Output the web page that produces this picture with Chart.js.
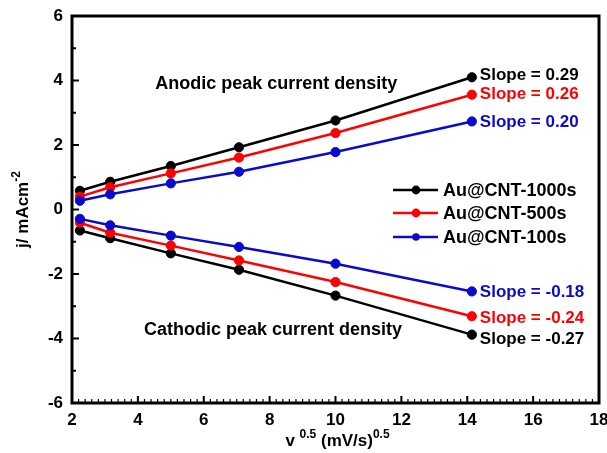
<!DOCTYPE html>
<html>
<head>
<meta charset="utf-8">
<script src="https://cdn.jsdelivr.net/npm/chart.js@4"></script>
<style>
  body { margin: 0; background: #fff; }
  #wrap { width: 607px; height: 453px; position: relative; }
</style>
</head>
<body>
<div id="wrap"><canvas id="peakChart"></canvas></div>
<script>
// square root of scan rate, (mV/s)^0.5
const scanRoot = [2.24, 3.16, 5, 7.07, 10, 14.14];

// peak current densities, mA/cm2
const anodic1000 = [0.58, 0.86, 1.35, 1.93, 2.76, 4.10];
const anodic500 = [0.40, 0.69, 1.12, 1.61, 2.37, 3.56];
const anodic100 = [0.27, 0.47, 0.81, 1.17, 1.78, 2.73];
const cathodic1000 = [-0.65, -0.89, -1.36, -1.87, -2.67, -3.88];
const cathodic500 = [-0.41, -0.72, -1.12, -1.58, -2.25, -3.31];
const cathodic100 = [-0.29, -0.49, -0.81, -1.16, -1.68, -2.54];

const seriesLabels = ['Au@CNT-1000s', 'Au@CNT-500s', 'Au@CNT-100s'];
const anodicSlopes = ['0.29', '0.26', '0.20'];
const cathodicSlopes = ['-0.27', '-0.24', '-0.18'];

const xRange = [2, 18];
const yRange = [-6, 6];

const FONT = "'Liberation Sans', Arial, sans-serif";
const colors = ['#000000', '#ff0000', '#0a0acc'];

function toPoints(ys) {
    return scanRoot.map((x, i) => ({ x: x, y: ys[i] }));
}

function makeSet(label, ys, idx, kind) {
    return {
        label: label,
        kind: kind,
        series: idx,
        data: toPoints(ys),
        borderColor: colors[idx],
        backgroundColor: colors[idx],
        borderWidth: 2.5,
        pointRadius: 4.6,
        pointBorderWidth: 1,
        pointHoverRadius: 4.6,
        order: 3 - idx
    };
}

const anodicSets = [anodic1000, anodic500, anodic100];
const cathodicSets = [cathodic1000, cathodic500, cathodic100];
const datasets = [];
seriesLabels.forEach((lab, i) => {
    datasets.push(makeSet(lab, anodicSets[i], i, 'anodic'));
    datasets.push(makeSet(lab, cathodicSets[i], i, 'cathodic'));
});

function line(ctx, x1, y1, x2, y2) {
    ctx.beginPath();
    ctx.moveTo(x1, y1);
    ctx.lineTo(x2, y2);
    ctx.stroke();
}

// draw text pieces with superscripts, returns total width
function runs(ctx, parts, x, y, measureOnly) {
    let cx = x;
    parts.forEach(p => {
        ctx.font = p.sup ? 'bold 12px ' + FONT : 'bold 17px ' + FONT;
        if (!measureOnly) ctx.fillText(p.t, cx, p.sup ? y - 8 : y);
        cx += ctx.measureText(p.t).width;
    });
    return cx - x;
}

const framePlugin = {
    id: 'framePlugin',
    afterDatasetsDraw(chart) {
        const { ctx, chartArea: a, scales: { x, y } } = chart;
        ctx.save();
        ctx.strokeStyle = '#000';
        ctx.lineCap = 'butt';

        // x ticks, pointing inward
        const xSteps = (xRange[1] - xRange[0]) / 0.2;
        for (let i = 0; i <= xSteps; i++) {
            const v = xRange[0] + i * 0.2;
            const px = x.getPixelForValue(v);
            const major = i % 10 === 0;
            ctx.lineWidth = major ? 2 : 1.2;
            line(ctx, px, a.bottom, px, a.bottom - (major ? 7 : 4));
        }
        // y ticks
        for (let v = yRange[0]; v <= yRange[1]; v++) {
            const py = y.getPixelForValue(v);
            const major = v % 2 === 0;
            ctx.lineWidth = 2;
            line(ctx, a.left, py, a.left + (major ? 7 : 4), py);
        }

        ctx.lineWidth = 3;
        ctx.strokeRect(a.left, a.top, a.right - a.left, a.bottom - a.top);
        ctx.restore();
    },
    afterDraw(chart) {
        const { ctx, chartArea: a, scales: { x, y } } = chart;
        ctx.save();
        ctx.fillStyle = '#000';

        // annotations
        ctx.font = 'bold 18px ' + FONT;
        ctx.textAlign = 'center';
        ctx.textBaseline = 'alphabetic';
        ctx.fillText('Anodic peak current density', x.getPixelForValue(8.2), y.getPixelForValue(3.73));
        ctx.fillText('Cathodic peak current density', x.getPixelForValue(8.1), y.getPixelForValue(-3.9));

        // slope labels next to last points
        ctx.font = 'bold 17px ' + FONT;
        ctx.textAlign = 'left';
        ctx.textBaseline = 'middle';
        const last = scanRoot.length - 1;
        const nudgeA = [-2, 0, 1];
        const nudgeC = [5, 2, 1];
        seriesLabels.forEach((lab, i) => {
            ctx.fillStyle = colors[i];
            const px = x.getPixelForValue(scanRoot[last]) + 8;
            ctx.fillText('Slope = ' + anodicSlopes[i], px, y.getPixelForValue(anodicSets[i][last]) + nudgeA[i]);
            ctx.fillText('Slope = ' + cathodicSlopes[i], px, y.getPixelForValue(cathodicSets[i][last]) + nudgeC[i]);
        });

        // legend inside plot
        const lx = 393, ly = [190, 213, 237];
        ctx.font = 'bold 18px ' + FONT;
        seriesLabels.forEach((lab, i) => {
            ctx.strokeStyle = colors[i];
            ctx.fillStyle = colors[i];
            ctx.lineWidth = 2.5;
            line(ctx, lx, ly[i], lx + 45, ly[i]);
            ctx.beginPath();
            ctx.arc(lx + 23, ly[i], i === 2 ? 3.8 : 4.4, 0, Math.PI * 2);
            ctx.fill();
            ctx.fillStyle = '#000';
            ctx.fillText(lab, lx + 50, ly[i] + 1);
        });

        // x title with superscripts
        ctx.fillStyle = '#000';
        ctx.textBaseline = 'alphabetic';
        ctx.textAlign = 'left';
        const xt = [{ t: 'v ' }, { t: '0.5', sup: true }, { t: ' (mV/s)' }, { t: '0.5', sup: true }];
        const wx = runs(ctx, xt, 0, 0, true);
        runs(ctx, xt, (a.left + a.right) / 2 - wx / 2 + 2, 446, false);

        // y title, rotated
        ctx.translate(28, (a.top + a.bottom) / 2);
        ctx.rotate(-Math.PI / 2);
        const yt = [{ t: 'j/ mAcm' }, { t: '-2', sup: true }];
        const wy = runs(ctx, yt, 0, 0, true);
        runs(ctx, yt, -wy / 2, 0, false);
        ctx.restore();
    }
};

const tickFont = { family: FONT, size: 17, weight: 'bold' };

new Chart(document.getElementById('peakChart'), {
    type: 'line',
    data: { datasets: datasets },
    options: {
        responsive: true,
        maintainAspectRatio: false,
        animation: false,
        layout: { padding: { left: 0, top: 16, right: 8, bottom: 0 } },
        plugins: {
            legend: { display: false },
            tooltip: { enabled: false }
        },
        scales: {
            x: {
                type: 'linear',
                min: xRange[0],
                max: xRange[1],
                grid: { display: false, drawTicks: false },
                border: { display: false },
                ticks: { stepSize: 2, color: '#000', font: tickFont, padding: 7, maxRotation: 0 },
                afterFit(scale) {
                    scale.height = 50;
                    scale.paddingLeft = 0;
                    scale.paddingRight = 0;
                }
            },
            y: {
                min: yRange[0],
                max: yRange[1],
                grid: { display: false, drawTicks: false },
                border: { display: false },
                ticks: { stepSize: 2, color: '#000', font: tickFont, padding: 9 },
                afterFit(scale) {
                    scale.width = 72;
                    scale.paddingTop = 0;
                    scale.paddingBottom = 0;
                }
            }
        }
    },
    plugins: [framePlugin]
});
</script>
</body>
</html>
